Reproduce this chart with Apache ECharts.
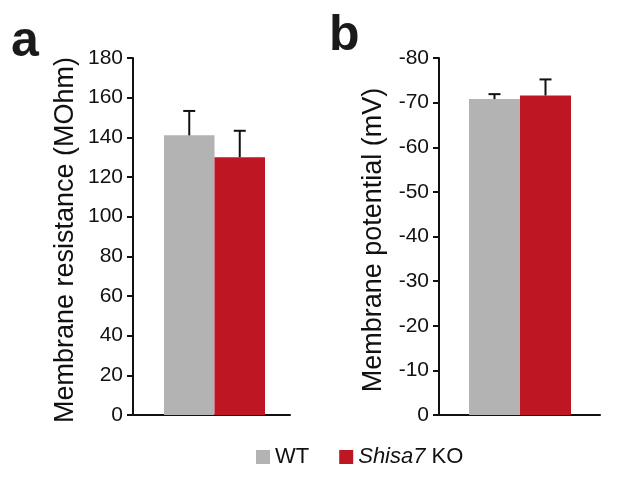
<!DOCTYPE html>
<html>
<head>
<meta charset="utf-8">
<script src="https://cdn.jsdelivr.net/npm/echarts@6/dist/echarts.min.js"></script>
<style>
html,body{margin:0;padding:0;background:#fff;}
#c{width:617px;height:480px;}
</style>
</head>
<body>
<div id="c"></div>
<script>
// ---- data ----
const groups = ['WT', 'Shisa7 KO'];
const resistanceMean = [141, 130];
const resistanceErrTop = [153.3, 143.3];
const potentialMean = [-70.8, -71.6];
const potentialErrTop = [-71.9, -75.2];
const resistanceTicks = {min: 0, max: 180, interval: 20};
const potentialTicks = {min: -80, max: 0, interval: 10};

const FONT = 'Liberation Sans, Arial, Helvetica, sans-serif';
const GRAY = '#b3b3b3';
const RED = '#be1622';
const INK = '#111';

const chart = echarts.init(document.getElementById('c'), null, {renderer: 'canvas'});

function errItem(params, api) {
  const x = api.value(0);
  const p0 = api.coord([x, api.value(1)]);
  const p1 = api.coord([x, api.value(2)]);
  const half = 6;
  return {
    type: 'group',
    children: [
      {type: 'line', shape: {x1: p0[0], y1: p0[1], x2: p1[0], y2: p1[1]}, style: {stroke: INK, lineWidth: 2}},
      {type: 'line', shape: {x1: p1[0] - half, y1: p1[1], x2: p1[0] + half, y2: p1[1]}, style: {stroke: INK, lineWidth: 2}}
    ]
  };
}

function visibleY(t, name, gap, inverse) {
  return {
    type: 'value', min: t.min, max: t.max, interval: t.interval, inverse: !!inverse,
    name: name, nameLocation: 'middle', nameGap: gap, nameRotate: 90,
    nameTextStyle: {fontFamily: FONT, fontSize: 27, color: INK, padding: [0, 7, 0, 0]},
    axisLine: {show: true, lineStyle: {color: INK, width: 2}},
    axisTick: {show: true, inside: false, length: 6, lineStyle: {color: INK, width: 2}},
    axisLabel: {fontFamily: FONT, fontSize: 21, color: INK, margin: 10},
    splitLine: {show: false}
  };
}
function hiddenY(t, inverse) {
  return {type: 'value', min: t.min, max: t.max, inverse: !!inverse, show: false, splitLine: {show: false}};
}

const option = {
  backgroundColor: '#fff',
  animation: false,
  textStyle: {fontFamily: FONT},
  graphic: [
    {type: 'text', left: 11, top: 17, style: {text: 'a', font: 'bold 50px ' + FONT, fill: '#1a1a1a'}},
    {type: 'text', left: 329, top: 11, style: {text: 'b', font: 'bold 50px ' + FONT, fill: '#1a1a1a'}}
  ],
  legend: {
    data: groups,
    left: 251, top: 441,
    icon: 'rect', itemWidth: 14, itemHeight: 14, itemGap: 30,
    textStyle: {fontFamily: FONT, fontSize: 22, color: INK,
      rich: {i: {fontFamily: FONT, fontSize: 22, fontStyle: 'italic', color: INK}}},
    formatter: function (n) { return n === 'Shisa7 KO' ? '{i|Shisa7} KO' : n; }
  },
  grid: [
    {left: 133, top: 58, width: 157, height: 357},
    {left: 164, top: 58, width: 101, height: 357},
    {left: 439, top: 58, width: 161, height: 357},
    {left: 469, top: 58, width: 102, height: 357}
  ],
  xAxis: [
    {gridIndex: 0, type: 'category', data: [''], axisLine: {lineStyle: {color: INK, width: 2}}, axisTick: {show: false}, axisLabel: {show: false}},
    {gridIndex: 1, type: 'category', data: groups, show: false},
    {gridIndex: 2, type: 'category', data: [''], axisLine: {lineStyle: {color: INK, width: 2}}, axisTick: {show: false}, axisLabel: {show: false}},
    {gridIndex: 3, type: 'category', data: groups, show: false}
  ],
  yAxis: [
    Object.assign(visibleY(resistanceTicks, 'Membrane resistance (MOhm)', 54, false), {gridIndex: 0}),
    Object.assign(hiddenY(resistanceTicks, false), {gridIndex: 1}),
    Object.assign(visibleY(potentialTicks, 'Membrane potential (mV)', 52, true), {gridIndex: 2}),
    Object.assign(hiddenY(potentialTicks, true), {gridIndex: 3})
  ],
  series: [
    {name: groups[0], type: 'bar', xAxisIndex: 1, yAxisIndex: 1, barWidth: '100%', barGap: '-100%',
      itemStyle: {color: GRAY}, data: [resistanceMean[0], '-']},
    {name: groups[1], type: 'bar', xAxisIndex: 1, yAxisIndex: 1, barWidth: '100%', barGap: '-100%',
      itemStyle: {color: RED}, data: ['-', resistanceMean[1]]},
    {type: 'custom', xAxisIndex: 1, yAxisIndex: 1, renderItem: errItem, z: 5,
      data: groups.map((g, i) => [i, resistanceMean[i], resistanceErrTop[i]])},
    {name: groups[0], type: 'bar', xAxisIndex: 3, yAxisIndex: 3, barWidth: '100%', barGap: '-100%',
      itemStyle: {color: GRAY}, data: [potentialMean[0], '-']},
    {name: groups[1], type: 'bar', xAxisIndex: 3, yAxisIndex: 3, barWidth: '100%', barGap: '-100%',
      itemStyle: {color: RED}, data: ['-', potentialMean[1]]},
    {type: 'custom', xAxisIndex: 3, yAxisIndex: 3, renderItem: errItem, z: 5,
      data: groups.map((g, i) => [i, potentialMean[i], potentialErrTop[i]])}
  ]
};
chart.setOption(option);
</script>
</body>
</html>
